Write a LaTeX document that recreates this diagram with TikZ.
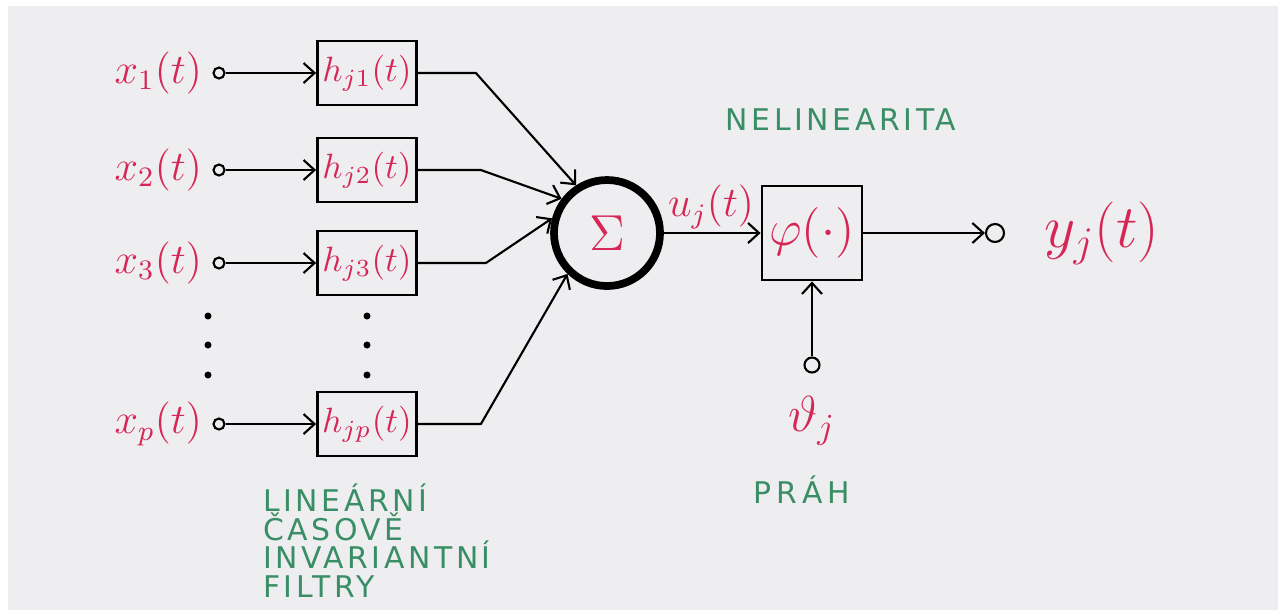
\documentclass[tikz,border=0pt]{standalone}
\usepackage{amsmath}
\usepackage{fontspec}
\usepackage{tikz}
\usetikzlibrary{positioning,arrows.meta}
\newfontfamily\notefont{DejaVu Sans}[LetterSpace=12]
\newcommand\notesize{\notefont\fontsize{8.5}{8.1}\selectfont\lineskiplimit=-5pt\relax}
\definecolor{inkred}{RGB}{214,38,86}
\definecolor{inkgreen}{RGB}{58,142,102}
\definecolor{paper}{RGB}{238,238,240}
\tikzstyle{filterbox} = [draw=black, thick, rectangle, minimum width=9.9mm,
    minimum height=6.4mm, inner sep=1pt, text=inkred]
\tikzstyle{sumnode} = [draw=black, line width=2.2pt, circle, minimum size=10.6mm,
    inner sep=0pt, text=inkred, font=\Large]
\tikzstyle{terminal} = [draw=black, semithick, circle, minimum size=1.1mm, inner sep=0pt]
\tikzstyle{inlabel} = [text=inkred, font=\large, inner sep=1pt]
\tikzstyle{note} = [text=inkgreen, font=\notesize, inner sep=0pt]

\begin{document}
\begin{tikzpicture}[x=0.1mm, y=-0.1mm, semithick, >={Straight Barb[length=1.1mm,width=2mm]}]
                \useasboundingbox (0,0) rectangle (1278,610);
                \fill[white] (0,0) rectangle (1278,610);
                \fill[paper] (8,6) rectangle (1278,610);
                % inputs and filters
                \node[terminal] (in1) at (219,73) {};
                \node[terminal] (in2) at (219,170) {};
                \node[terminal] (in3) at (219,263) {};
                \node[terminal] (in4) at (219,424) {};
                \node[inlabel, left=0.6mm of in1] (x1) {$x_1(t)$};
                \node[inlabel, left=0.6mm of in2] (x2) {$x_2(t)$};
                \node[inlabel, left=0.6mm of in3] (x3) {$x_3(t)$};
                \node[inlabel, left=0.6mm of in4] (x4) {$x_p(t)$};
                \node[filterbox] (h1) at (367,73) {$h_{j1}(t)$};
                \node[filterbox] (h2) at (367,170) {$h_{j2}(t)$};
                \node[filterbox] (h3) at (367,263) {$h_{j3}(t)$};
                \node[filterbox] (h4) at (367,424) {$h_{jp}(t)$};
                \fill (208,316) circle (0.35mm);
                \fill (208,345) circle (0.35mm);
                \fill (208,375) circle (0.35mm);
                \fill (367,316) circle (0.35mm);
                \fill (367,345) circle (0.35mm);
                \fill (367,375) circle (0.35mm);
                % sum, nonlinearity, threshold
                \node[sumnode] (sum) at (607,233) {$\Sigma$};
                \node[filterbox, minimum width=10mm, minimum height=9.4mm, font=\Large] (phi) at (812,233) {$\varphi(\cdot)$};
                \node[terminal, minimum size=1.8mm] (out) at (995,233) {};
                \node[inlabel, font=\LARGE, right=3.5mm of out] (y) {$y_j(t)$};
                \node[terminal, minimum size=1.5mm] (thr) at (812,365) {};
                \node[inlabel, font=\Large, below=1.8mm of thr] (theta) {$\vartheta_j$};
                \node[inlabel] (u) at (711,207) {$u_j(t)$};
                \node[note] (nonlin) at (841,120) {NELINEARITA};
                \node[note] (prah) at (802,490) {P\,R\,Á\,H};
                \node[note, align=left, anchor=north west] (filt) at (262,483) {LINEÁRNÍ\\ČASOVĚ\\INVARIANTNÍ\\FILTRY};
                % connectors
                \draw[->] (in1) -- (h1);
                \draw[->] (in2) -- (h2);
                \draw[->] (in3) -- (h3);
                \draw[->] (in4) -- (h4);
                \draw[->] (h1.east) -- ++(58,0) -- (sum.123);
                \draw[->] (h2.east) -- ++(63,0) -- (sum.143);
                \draw[->] (h3.east) -- ++(68,0) -- (sum.165);
                \draw[->] (h4.east) -- ++(63,0) -- (sum.226);
                \draw[->] (sum) -- (phi);
                \draw[->] (phi) -- (out);
                \draw[->] (thr) -- (phi);
            \end{tikzpicture}
\end{document}
